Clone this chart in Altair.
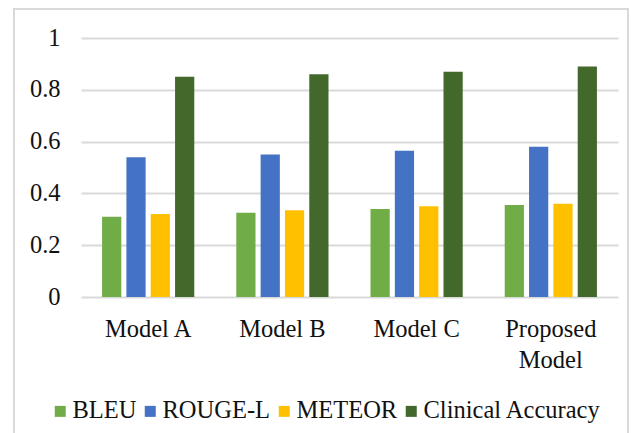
import altair as alt
import pandas as pd

# Scores per model for each evaluation metric
models = ["Model A", "Model B", "Model C", "Proposed Model"]
metrics = ["BLEU", "ROUGE-L", "METEOR", "Clinical Accuracy"]
bleu = [0.31, 0.325, 0.34, 0.355]
rouge_l = [0.54, 0.55, 0.565, 0.58]
meteor = [0.32, 0.335, 0.35, 0.36]
clinical_accuracy = [0.85, 0.86, 0.87, 0.89]
colors = ["#70AD47", "#4472C4", "#FFC000", "#43682B"]
y_ticks = [0, 0.2, 0.4, 0.6, 0.8, 1]

rows = []
for metric, vals in zip(metrics, [bleu, rouge_l, meteor, clinical_accuracy]):
    for model, v in zip(models, vals):
        rows.append({"model": model, "metric": metric, "value": v})
df = pd.DataFrame(rows)

FONT = "'Liberation Serif', 'Times New Roman', serif"
TEXT = "#111111"
GRID = "#d9d9d9"
FS = 24.5
W, H = 537, 259

bars = alt.Chart(df).mark_bar().encode(
    x=alt.X(
        "model:N",
        sort=models,
        scale=alt.Scale(paddingInner=0.313, paddingOuter=0.157),
        axis=alt.Axis(
            title=None,
            labelAngle=0,
            domain=False,
            ticks=False,
            labelPadding=20,
            labelFont=FONT,
            labelFontSize=FS,
            labelColor=TEXT,
            labelLineHeight=31,
            labelExpr="datum.value == 'Proposed Model' ? ['Proposed', 'Model'] : datum.label",
        ),
    ),
    xOffset=alt.XOffset("metric:N", sort=metrics, scale=alt.Scale(paddingInner=0.21)),
    y=alt.Y(
        "value:Q",
        scale=alt.Scale(domain=[0, 1], nice=False),
        axis=alt.Axis(
            title=None,
            values=y_ticks,
            format="~g",
            domain=False,
            ticks=False,
            grid=True,
            gridColor=GRID,
            gridWidth=2,
            labelPadding=21,
            labelFont=FONT,
            labelFontSize=FS,
            labelColor=TEXT,
        ),
    ),
    color=alt.Color(
        "metric:N",
        sort=metrics,
        scale=alt.Scale(domain=metrics, range=colors),
        legend=alt.Legend(
            title=None,
            orient="none",
            direction="horizontal",
            legendX=-33,
            legendY=361,
            symbolType="square",
            symbolSize=121,
            symbolStrokeWidth=0,
            labelFont=FONT,
            labelFontSize=FS,
            labelColor=TEXT,
            labelOffset=0,
            labelLimit=400,
            columnPadding=1,
            padding=0,
        ),
    ),
)

# light frame around the whole figure
frame = alt.Chart(alt.Data(values=[{"k": 0}])).mark_rect(
    fillOpacity=0, stroke=GRID, strokeWidth=2
).encode(
    x=alt.value(-67), x2=alt.value(547), y=alt.value(-29), y2=alt.value(420)
)

chart = alt.layer(frame, bars).properties(
    width=W,
    height=H,
    padding={"left": 81, "top": 38, "right": 13, "bottom": 136},
    autosize=alt.AutoSizeParams(type="none"),
    background="white",
).configure_view(stroke=None)

chart.save("out.html", embed_options={"renderer": "svg", "actions": False})
